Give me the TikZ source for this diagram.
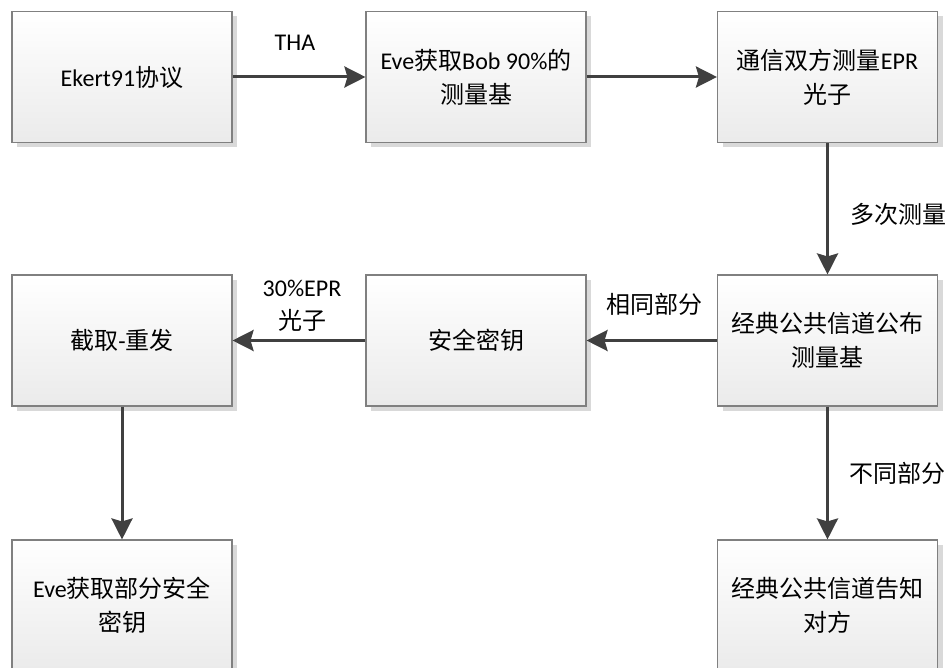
\documentclass[tikz,border=0pt]{standalone}
\usepackage{fontspec}
\setmainfont{Carlito}
\newfontfamily\zhfont{Noto Sans CJK SC}
\newcommand{\zh}[1]{{\zhfont #1}}
\usetikzlibrary{arrows.meta}
\definecolor{boxline}{HTML}{808080}
\definecolor{arrowc}{HTML}{404040}
\definecolor{shadowc}{HTML}{D9D9D9}
\tikzset{
  box/.style={rectangle, draw=boxline, line width=1.1pt,
    minimum width=220pt, minimum height=131pt, inner sep=0pt,
    top color=white, bottom color=black!8, align=center,
    font=\fontsize{24pt}{34pt}\selectfont,
    preaction={fill=shadowc, draw=none, transform canvas={xshift=5pt,yshift=-5pt}}},
  lbl/.style={inner sep=0pt, align=center, font=\fontsize{24pt}{33pt}\selectfont},
  conn/.style={draw=arrowc, line width=3pt,
    -{Stealth[length=21pt,width=21pt,inset=3pt]}}
}
\begin{document}
\begin{tikzpicture}[x=1pt,y=-1pt]
\useasboundingbox (0,0) rectangle (949,668);
\clip (0,0) rectangle (949,668);
\fill[white] (0,0) rectangle (949,668);
\node[box] (n1) at (122,77) {Ekert91\zh{协议}};
\node[box] (n2) at (476,77) {Eve\zh{获取}Bob 90\%\zh{的}\\\zh{测量基}};
\node[box] (n3) at (827.5,77) {\zh{通信双方测量}EPR\\\zh{光子}};
\node[box] (n4) at (122,340.5) {\zh{截取}-\zh{重发}};
\node[box] (n5) at (476,340.5) {\zh{安全密钥}};
\node[box] (n6) at (827.5,340.5) {\zh{经典公共信道公布}\\\zh{测量基}};
\node[box] (n7) at (122,605.5) {Eve\zh{获取部分安全}\\\zh{密钥}};
\node[box] (n8) at (827.5,605.5) {\zh{经典公共信道告知}\\\zh{对方}};
\node[lbl] (l1) at (295,43) {THA};
\node[lbl] (l2) at (302,306) {30\%EPR\\\zh{光子}};
\node[lbl] (l3) at (654,304) {\zh{相同部分}};
\node[lbl] (l4) at (898,214) {\zh{多次测量}};
\node[lbl] (l5) at (897,473) {\zh{不同部分}};
\draw[conn] (n1) -- (n2);
\draw[conn] (n2) -- (n3);
\draw[conn] (n3) -- (n6);
\draw[conn] (n6) -- (n5);
\draw[conn] (n5) -- (n4);
\draw[conn] (n4) -- (n7);
\draw[conn] (n6) -- (n8);
\end{tikzpicture}
\end{document}
